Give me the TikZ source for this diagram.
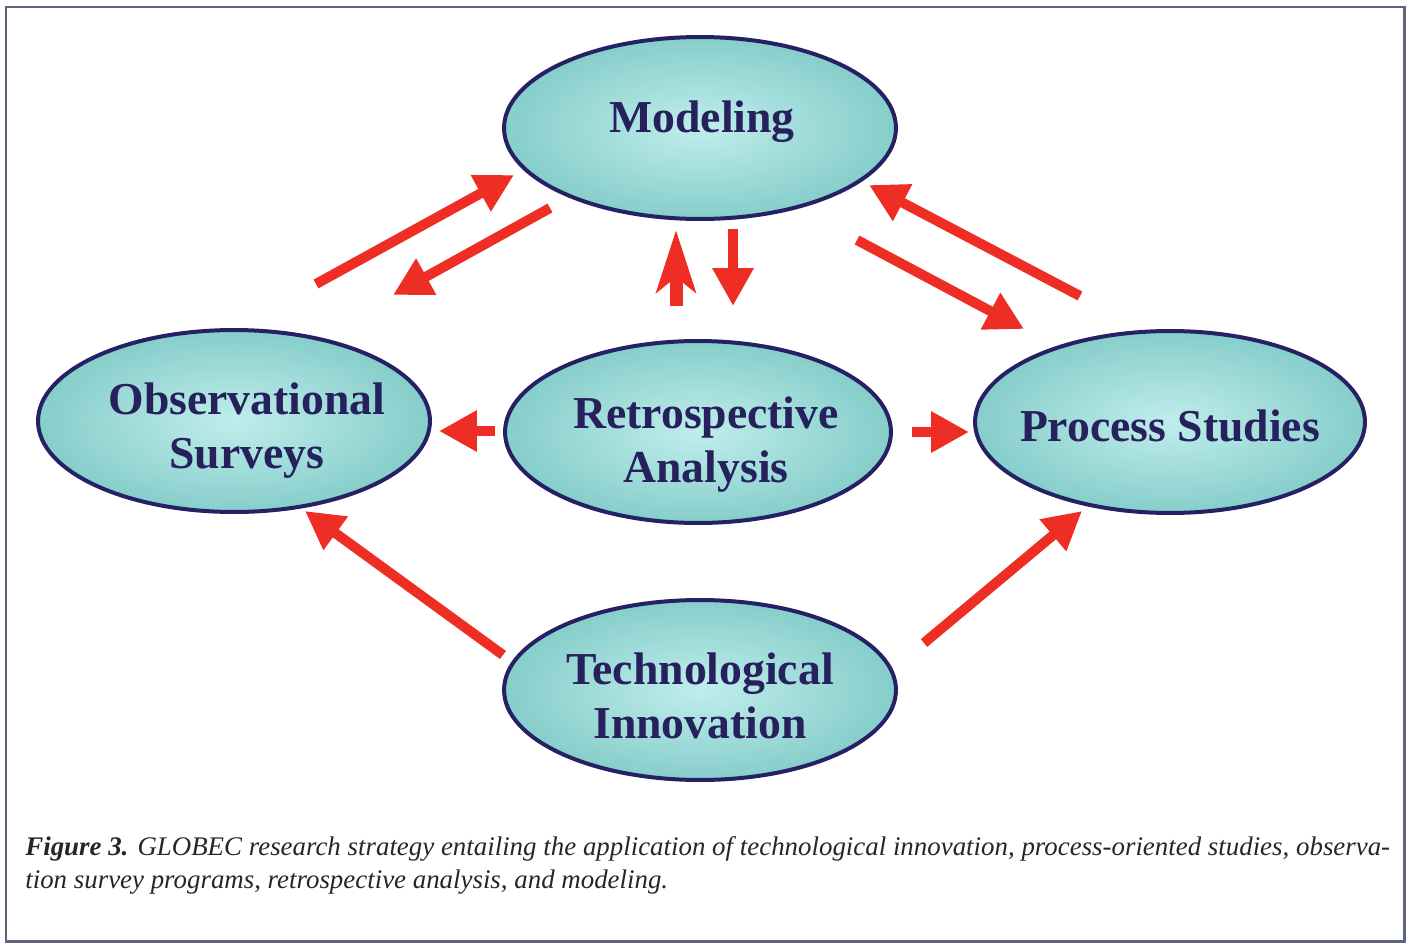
\documentclass[tikz,border=0pt]{standalone}
\usepackage{fontspec}
\setmainfont{Liberation Serif}
\usetikzlibrary{shapes.geometric,arrows.meta}
\definecolor{navy}{RGB}{38,32,100}
\definecolor{txt}{RGB}{38,32,92}
\definecolor{tealout}{RGB}{134,206,202}
\definecolor{tealin}{RGB}{192,237,236}
\definecolor{arrred}{RGB}{238,45,36}
\definecolor{framecol}{RGB}{95,100,125}
\begin{document}
\begin{tikzpicture}[x=0.02cm,y=-0.02cm,
  oval/.style={ellipse,draw=navy,line width=0.08cm,inner color=tealin,outer color=tealout,
     minimum width=7.84cm,minimum height=3.64cm,inner sep=0pt},
  lbl/.style={anchor=base,inner sep=0pt,align=center,text=txt,
     font=\fontsize{26}{30.5}\selectfont\bfseries},
  arr/.style={draw=arrred,line width=0.2cm,-{Triangle[length=0.76cm,width=0.78cm]}},
  arrst/.style={draw=arrred,line width=0.26cm,-{Stealth[length=1.24cm,width=0.78cm,inset=0.3cm]}},
  capline/.style={anchor=base west,inner sep=0pt,font=\fontsize{15.3}{18}\selectfont\itshape,text=black!85}]
\useasboundingbox (0,0) rectangle (1412,943);
\draw[framecol,line width=0.06cm] (6,7) rectangle (1404,941);
\node[oval] (mod) at (700,128) {};
\node[oval] (obs) at (234,421) {};
\node[oval,minimum width=7.72cm] (ret) at (698,432) {};
\node[oval,minimum width=7.8cm] (pro) at (1170,422) {};
\node[oval,minimum height=3.6cm] (tec) at (700,690) {};
\node[lbl] (modt) at (702,132) {Modeling};
\node[lbl] (obst) at (247,468) {Observational\\Surveys};
\node[lbl] (rett) at (706,482) {Retrospective\\Analysis};
\node[lbl] (prot) at (1170,441) {Process Studies};
\node[lbl] (tect) at (700,738) {Technological\\Innovation};
% arrow end points
\coordinate (a1s) at (316,284); \coordinate (a1e) at (514,175);
\coordinate (a2s) at (550,208); \coordinate (a2e) at (393,295);
\coordinate (a3s) at (676,306); \coordinate (a3e) at (676,230);
\coordinate (a4s) at (733,229); \coordinate (a4e) at (733,306);
\coordinate (a5s) at (857,240); \coordinate (a5e) at (1024,329);
\coordinate (a6s) at (1080,296); \coordinate (a6e) at (869,185);
\coordinate (a7s) at (495,431); \coordinate (a7e) at (439,431);
\coordinate (a8s) at (912,432); \coordinate (a8e) at (969,432);
\coordinate (a9s) at (503,655); \coordinate (a9e) at (305,511);
\coordinate (a10s) at (924,643); \coordinate (a10e) at (1082,511);
\draw[arr] (a1s) -- (a1e);
\draw[arr] (a2s) -- (a2e);
\draw[arrst] (a3s) -- (a3e);
\draw[arr] (a4s) -- (a4e);
\draw[arr] (a5s) -- (a5e);
\draw[arr] (a6s) -- (a6e);
\draw[arr] (a7s) -- (a7e);
\draw[arr] (a8s) -- (a8e);
\draw[arr] (a9s) -- (a9e);
\draw[arr] (a10s) -- (a10e);
\node[capline] (c1) at (25,855) {\makebox[27.3cm][s]{\textbf{Figure 3.} GLOBEC research strategy entailing the application of technological innovation, process-oriented studies, observa-}};
\node[capline] (c2) at (25,888) {tion survey programs, retrospective analysis, and modeling.};
\end{tikzpicture}
\end{document}
